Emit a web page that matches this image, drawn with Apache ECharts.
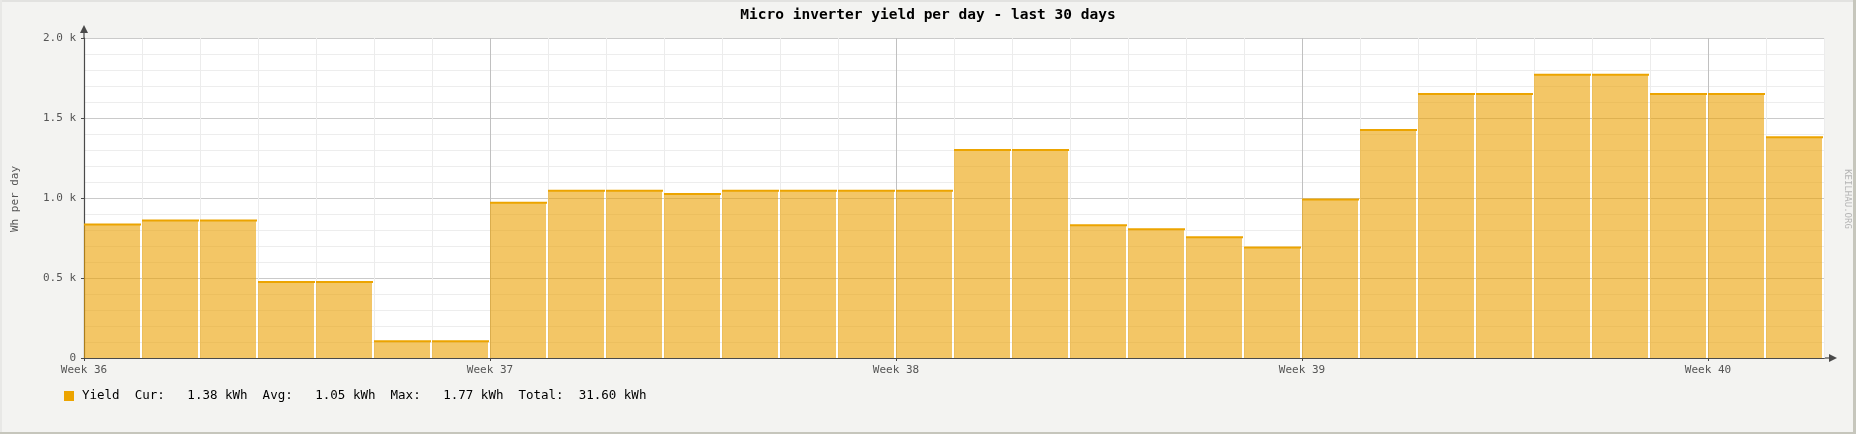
<!DOCTYPE html>
<html>
<head>
<meta charset="utf-8">
<script src="https://cdn.jsdelivr.net/npm/echarts@6/dist/echarts.min.js"></script>
<style>
html,body{margin:0;padding:0;background:#f3f3f1;}
#c{width:1856px;height:434px;}
</style>
</head>
<body>
<div id="c"></div>
<script>
// ---- data ----
const chartTitle = 'Micro inverter yield per day - last 30 days';
const yAxisTitle = 'Wh per day';
const seriesName = 'Yield';
const unitLabel = 'kWh';
const watermark = 'KEILHAU.ORG';
const dayValues = [835, 860, 860, 475, 475, 105, 105,
                   970, 1046, 1046, 1025, 1046, 1046, 1046,
                   1046, 1300, 1300, 830, 805, 755, 690,
                   990, 1425, 1650, 1650, 1770, 1770, 1650,
                   1650, 1380];
const weekLabels = ['Week 36', 'Week 37', 'Week 38', 'Week 39', 'Week 40'];
const daysPerWeek = 7;
const yTickLabels = ['0', '0.5 k', '1.0 k', '1.5 k', '2.0 k'];
const yStep = 500;
const yMax = 2000;

// ---- stats for legend ----
const total = dayValues.reduce((a, b) => a + b, 0);
const cur = dayValues[dayValues.length - 1];
const avg = total / dayValues.length;
const mx = Math.max.apply(null, dayValues);
function f7(v) { let s = (v / 1000).toFixed(2); while (s.length < 7) s = ' ' + s; return s; }
const legendText = seriesName + '  Cur:' + f7(cur) + ' ' + unitLabel +
  '  Avg:' + f7(avg) + ' ' + unitLabel +
  '  Max:' + f7(mx) + ' ' + unitLabel +
  '  Total:' + f7(total) + ' ' + unitLabel;

const MONO = '"DejaVu Sans Mono", monospace';
const nDays = dayValues.length;
const dayGridColors = [];
for (let i = 0; i < daysPerWeek; i++) dayGridColors.push(i === 0 ? '#c0c0c0' : '#ececec');
const weekTickValues = weekLabels.map(function (_, k) { return k * daysPerWeek; });

const chart = echarts.init(document.getElementById('c'), null, {renderer: 'canvas'});
const option = {
  backgroundColor: '#f3f3f1',
  animation: false,
  title: {
    text: chartTitle, left: 'center', top: 8, padding: 0,
    textStyle: {fontFamily: MONO, fontSize: 14.5, fontWeight: 'bold', color: '#000'}
  },
  grid: {
    left: 84, top: 38, width: 1740, height: 320,
    show: true, backgroundColor: '#ffffff', borderWidth: 0
  },
  xAxis: [{
    type: 'value', min: 0, max: nDays, interval: 1,
    axisLine: {show: true, lineStyle: {color: '#4a4a4a', width: 1.2},
      symbol: ['none', 'triangle'], symbolSize: [8, 8], symbolOffset: [0, 9]},
    axisTick: {show: false},
    axisLabel: {
      show: true, margin: 7, color: '#555', fontFamily: MONO, fontSize: 11,
      showMinLabel: true, showMaxLabel: true,
      formatter: function (v) { return v % daysPerWeek === 0 ? (weekLabels[v / daysPerWeek] || '') : ''; }
    },
    splitLine: {show: true, lineStyle: {color: dayGridColors, width: 1}}
  }, {
    type: 'value', min: 0, max: nDays, position: 'bottom',
    axisLine: {show: false},
    axisTick: {show: true, length: 3, customValues: weekTickValues, lineStyle: {color: '#4a4a4a'}},
    axisLabel: {show: false},
    splitLine: {show: false}
  }],
  yAxis: {
    type: 'value', min: 0, max: yMax, interval: yStep,
    axisLine: {show: true, lineStyle: {color: '#4a4a4a', width: 1.2},
      symbol: ['none', 'triangle'], symbolSize: [8, 8], symbolOffset: [0, 9]},
    axisTick: {show: true, length: 3, lineStyle: {color: '#4a4a4a'}},
    axisLabel: {
      margin: 8, color: '#555', fontFamily: MONO, fontSize: 11,
      formatter: function (v) { return yTickLabels[Math.round(v / yStep)]; }
    },
    splitLine: {show: true, lineStyle: {color: '#cacaca', width: 1}},
    minorTick: {show: false, splitNumber: 5},
    minorSplitLine: {show: true, lineStyle: {color: '#ededed', width: 1}}
  },
  series: [{
    type: 'custom',
    name: seriesName,
    xAxisIndex: 0,
    data: dayValues.map(function (v, i) { return [i, v]; }),
    encode: {x: 0, y: 1},
    renderItem: function (params, api) {
      const i = api.value(0), v = api.value(1);
      const p0 = api.coord([i, v]);
      const p1 = api.coord([i + 1, 0]);
      const w = p1[0] - p0[0];
      return {
        type: 'group',
        children: [
          {type: 'rect', shape: {x: p0[0], y: p0[1], width: w - 2, height: p1[1] - p0[1]},
           style: {fill: 'rgba(235,160,0,0.6)'}},
          {type: 'rect', shape: {x: p0[0], y: p0[1] - 1, width: w - 1, height: 2},
           style: {fill: '#eca400'}}
        ]
      };
    }
  }],
  graphic: [
    // frame
    {type: 'rect', shape: {x: 0, y: 0, width: 1856, height: 2}, style: {fill: '#e2e2e0'}, silent: true},
    {type: 'rect', shape: {x: 0, y: 0, width: 2, height: 434}, style: {fill: '#e8e8e6'}, silent: true},
    {type: 'rect', shape: {x: 1853, y: 0, width: 3, height: 434}, style: {fill: '#c6c6bc'}, silent: true},
    {type: 'rect', shape: {x: 0, y: 432, width: 1856, height: 2}, style: {fill: '#c6c6bc'}, silent: true},
    // axis extensions to arrows
    {type: 'line', shape: {x1: 84, y1: 38, x2: 84, y2: 31}, style: {stroke: '#4a4a4a', lineWidth: 1.2}, silent: true},
    {type: 'line', shape: {x1: 1824, y1: 358, x2: 1831, y2: 358}, style: {stroke: '#4a4a4a', lineWidth: 1.2}, silent: true},
    // y axis title
    {type: 'text', x: 15, y: 199, rotation: Math.PI / 2,
     style: {text: yAxisTitle, fill: '#555', font: '11px ' + MONO, align: 'center', verticalAlign: 'middle'}, silent: true},
    // watermark
    {type: 'text', x: 1847, y: 199, rotation: -Math.PI / 2,
     style: {text: watermark, fill: '#b4b4b4', font: '9px ' + MONO, align: 'center', verticalAlign: 'middle'}, silent: true},
    // legend
    {type: 'rect', shape: {x: 64, y: 391, width: 10, height: 10}, style: {fill: '#eca400'}, silent: true},
    {type: 'text', x: 82, y: 396,
     style: {text: legendText, fill: '#000', font: '12.5px ' + MONO, align: 'left', verticalAlign: 'middle'}, silent: true}
  ]
};
chart.setOption(option);
</script>
</body>
</html>
